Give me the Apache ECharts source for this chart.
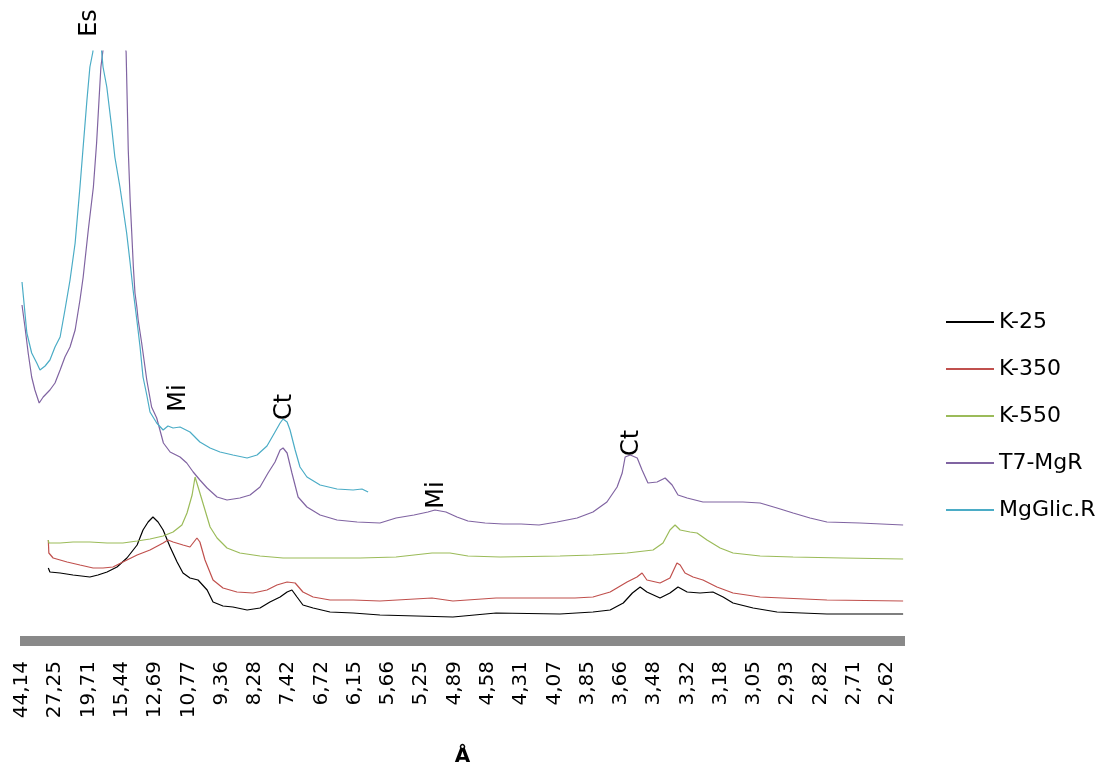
<!DOCTYPE html>
<html>
<head>
<meta charset="utf-8">
<script src="https://cdn.jsdelivr.net/npm/echarts@6/dist/echarts.min.js"></script>
<style>
  html, body { margin: 0; padding: 0; background: #ffffff; overflow: hidden; }
  #chart { width: 1102px; height: 771px; }
</style>
</head>
<body>
<div id="chart"></div>
<script>
// x values: 2-theta (deg, CuKa), labelled on the axis with d-spacing (Å)
const tickPositions = [2.00, 3.24, 4.48, 5.72, 6.96, 8.20, 9.44, 10.68, 11.92, 13.16, 14.40, 15.64, 16.88, 18.12,
  19.36, 20.60, 21.84, 23.08, 24.32, 25.56, 26.80, 28.04, 29.28, 30.52, 31.76, 33.00, 34.24];
const tickLabels = ['44,14','27,25','19,71','15,44','12,69','10,77','9,36','8,28','7,42','6,72','6,15','5,66','5,25','4,89',
  '4,58','4,31','4,07','3,85','3,66','3,48','3,32','3,18','3,05','2,93','2,82','2,71','2,62'];

const seriesNames = ['K-25', 'K-350', 'K-550', 'T7-MgR', 'MgGlic.R'];

const k25 = [[2.98,73],[3.04,69],[3.42,68],[3.90,66],[4.53,64],[4.83,66],[5.17,69],[5.54,74],[5.91,83],[6.29,96],
  [6.51,111],[6.70,119],[6.88,124],[7.07,119],[7.26,111],[7.52,94],[7.78,79],[8.00,68],[8.26,63],[8.56,61],[8.90,51],
  [9.12,39],[9.49,35],[9.86,34],[10.39,31],[10.87,33],[11.24,39],[11.62,44],[11.88,49],[12.06,51],[12.25,44],[12.47,36],
  [12.85,33],[13.48,29],[14.34,28],[15.34,26],[18.06,24],[19.67,28],[22.05,27],[23.28,29],[23.92,31],[24.41,38],
  [24.75,48],[25.04,54],[25.29,49],[25.78,43],[26.15,48],[26.45,54],[26.79,49],[27.27,48],[27.75,49],[28.13,44],
  [28.50,38],[29.25,33],[30.14,29],[32.00,27],[34.84,27]];

const k350 = [[2.98,101],[3.00,88],[3.16,83],[3.68,79],[4.16,76],[4.65,73],[5.02,73],[5.39,74],[5.76,79],[6.29,86],
  [6.77,91],[7.26,98],[7.44,101],[7.63,99],[8.00,96],[8.26,94],[8.52,103],[8.63,99],[8.82,81],[9.12,61],[9.49,53],
  [10.01,49],[10.61,48],[11.13,51],[11.50,56],[11.88,59],[12.18,58],[12.47,49],[12.85,44],[13.48,41],[14.34,41],
  [15.34,40],[17.28,43],[18.06,40],[19.67,43],[22.61,43],[23.28,44],[23.92,49],[24.55,59],[24.92,64],[25.11,68],
  [25.29,61],[25.78,58],[26.15,63],[26.41,78],[26.53,76],[26.71,68],[27.01,64],[27.38,61],[27.90,54],[28.50,48],
  [29.51,44],[32.00,41],[34.84,40]];

const k550 = [[2.98,101],[3.00,98],[3.42,98],[3.90,99],[4.53,99],[5.17,98],[5.76,98],[6.29,100],[6.77,102],[7.26,105],
  [7.63,109],[7.96,116],[8.15,128],[8.34,146],[8.45,164],[8.63,148],[8.82,131],[9.01,114],[9.27,103],[9.64,93],
  [10.12,88],[10.87,85],[11.73,83],[12.99,83],[14.60,83],[15.94,84],[16.61,86],[17.28,88],[17.95,88],[18.62,85],
  [19.82,84],[22.05,85],[23.28,86],[24.55,88],[25.52,91],[25.89,98],[26.15,111],[26.34,116],[26.53,111],[26.90,109],
  [27.16,108],[27.53,101],[28.02,93],[28.50,88],[29.51,85],[30.74,84],[32.60,83],[34.84,82]];

const t7MgR = [[2.00,336],[2.11,314],[2.23,288],[2.36,264],[2.48,251],[2.64,238],[2.79,244],[3.04,251],[3.23,258],
  [3.42,271],[3.60,284],[3.79,294],[3.98,311],[4.16,341],[4.28,364],[4.47,411],[4.66,454],[4.78,498],[4.87,541],
  [4.94,574],[5.01,589],[5.43,671],[5.88,589],[5.92,541],[5.96,491],[6.03,441],[6.09,408],[6.15,374],[6.21,348],
  [6.28,334],[6.33,321],[6.46,298],[6.65,261],[6.83,234],[7.02,223],[7.27,198],[7.52,189],[7.89,184],[8.14,178],
  [8.38,169],[8.63,161],[8.90,153],[9.27,144],[9.64,141],[10.12,143],[10.50,146],[10.87,154],[11.17,168],[11.43,179],
  [11.62,191],[11.73,193],[11.88,188],[12.06,168],[12.29,144],[12.62,134],[13.11,126],[13.74,121],[14.49,119],
  [15.34,118],[15.94,123],[16.61,126],[17.13,129],[17.39,131],[17.80,129],[18.21,124],[18.62,120],[19.26,118],
  [19.93,117],[20.60,117],[21.27,116],[21.94,119],[22.69,123],[23.28,129],[23.80,139],[24.18,154],[24.37,168],
  [24.48,184],[24.67,186],[24.93,183],[25.11,171],[25.33,158],[25.67,159],[25.97,163],[26.23,156],[26.45,146],
  [26.79,143],[27.38,139],[28.02,139],[28.87,139],[29.51,138],[30.14,133],[30.74,128],[31.37,123],[32.00,119],
  [33.23,118],[34.84,116]];

const mgGlicR = [[2.00,359],[2.18,308],[2.36,288],[2.55,278],[2.67,271],[2.86,275],[3.04,281],[3.23,294],[3.42,304],
  [3.60,331],[3.79,361],[3.98,398],[4.16,454],[4.27,491],[4.42,541],[4.53,574],[4.64,589],[4.81,641],[4.97,589],
  [5.02,574],[5.16,554],[5.34,514],[5.46,484],[5.65,454],[5.76,434],[5.90,408],[6.03,378],[6.14,351],[6.28,321],
  [6.40,294],[6.51,264],[6.65,246],[6.77,229],[7.02,218],[7.26,211],[7.44,215],[7.63,213],[7.89,214],[8.26,209],
  [8.63,199],[9.01,193],[9.38,189],[9.86,186],[10.39,183],[10.76,186],[11.13,195],[11.43,209],[11.62,218],
  [11.73,222],[11.88,219],[11.99,211],[12.18,191],[12.36,174],[12.62,164],[13.11,156],[13.74,152],[14.34,151],
  [14.67,152],[14.90,149]];

// peak annotations: [text, 2-theta, intensity] (centre of label)
const annotations = [['Es', 4.53, 618], ['Mi', 7.85, 243], ['Ct', 11.80, 234], ['Mi', 17.47, 146], ['Ct', 24.74, 198]];

const seriesData = [k25, k350, k550, t7MgR, mgGlicR];
const colors = ['#000000', '#c0504d', '#9bbb59', '#8064a2', '#4bacc6'];

const FONT = 'DejaVu Sans';
const chart = echarts.init(document.getElementById('chart'), null, { renderer: 'canvas' });

function labelFor(v) {
  let best = 0, bd = Infinity;
  tickPositions.forEach((p, i) => { const d = Math.abs(p - v); if (d < bd) { bd = d; best = i; } });
  return bd < 0.05 ? tickLabels[best] : '';
}

chart.setOption({
  animation: false,
  backgroundColor: '#ffffff',
  grid: { left: 20, right: 197, top: 51, bottom: 130, containLabel: false, outerBoundsMode: 'none' },
  legend: {
    orient: 'vertical', left: 946, top: 311, padding: 0, itemWidth: 48, itemHeight: 2, itemGap: 25,
    icon: 'rect',
    textStyle: { fontFamily: FONT, fontSize: 22, color: '#000', lineHeight: 22 },
    data: seriesNames
  },
  xAxis: {
    type: 'value', min: 1.925, max: 34.91,
    name: 'Å', nameLocation: 'middle', nameGap: 106,
    nameTextStyle: { fontFamily: FONT, fontSize: 20, fontWeight: 'bold', color: '#000' },
    axisLine: { show: true, onZero: false, lineStyle: { color: '#898989', width: 10, cap: 'butt' } },
    axisTick: { show: false },
    splitLine: { show: false },
    axisLabel: {
      customValues: tickPositions, rotate: 90, margin: 20, showMinLabel: true, showMaxLabel: true,
      fontFamily: FONT, fontSize: 20, color: '#000', formatter: labelFor
    }
  },
  yAxis: { type: 'value', min: 0, max: 590, show: false },
  series: seriesNames.map((n, i) => ({
    name: n, type: 'line', data: seriesData[i], showSymbol: false, symbol: 'none', clip: true,
    color: colors[i], lineStyle: { width: 1.2, color: colors[i] }, z: 2 + i
  }))
});

const graphics = annotations.map(a => {
  const p = chart.convertToPixel({ gridIndex: 0 }, [a[1], a[2]]);
  return {
    type: 'text', x: p[0], y: p[1], rotation: Math.PI / 2, z: 100,
    style: { text: a[0], fontFamily: FONT, fontSize: 24, fill: '#000', align: 'center', verticalAlign: 'middle' }
  };
});
chart.setOption({ graphic: graphics });
</script>
</body>
</html>
